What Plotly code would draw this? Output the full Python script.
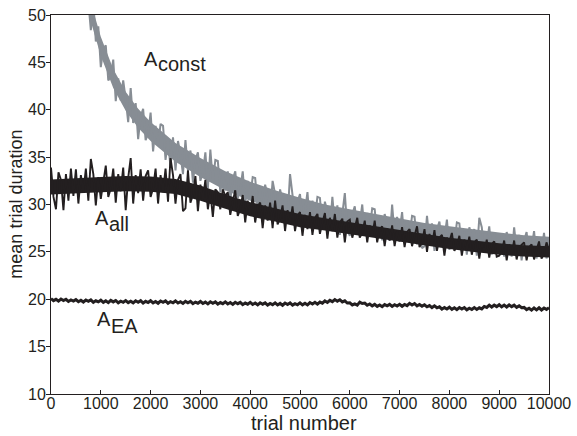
import plotly.graph_objects as go

# Trial grids for the three curves
trials_const = list(range(500, 10001, 50))
trials_all = list(range(0, 10001, 50))
trials_ea = list(range(0, 10001, 50))

# Mean trial duration, A_const (grey)
dur_const = [
    58.3, 53.9, 55.2, 51.4, 53.7, 51.4, 48.4, 51.4, 47.2, 48.8,
    44.5, 46.4, 46.8, 43.1, 43.5, 45.3, 40.9, 43.3, 41.0, 43.1,
    41.1, 38.7, 42.3, 38.6, 40.7, 36.9, 39.3, 40.1, 36.8, 37.5,
    39.7, 35.6, 38.3, 36.2, 38.5, 38.3, 34.7, 36.8, 33.9, 37.1,
    33.6, 36.7, 35.3, 33.2, 36.8, 33.6, 35.7, 32.3, 34.7, 35.5,
    32.5, 33.4, 35.5, 31.7, 35.8, 32.4, 34.7, 34.6, 31.3, 33.3,
    31.5, 33.5, 30.4, 32.7, 33.5, 30.7, 31.6, 33.5, 30.0, 32.5,
    30.8, 32.9, 32.8, 29.7, 31.6, 29.1, 32.1, 30.9, 29.0, 32.5,
    31.1, 28.6, 31.6, 30.4, 28.5, 28.6, 33.2, 31.0, 27.9, 30.3,
    31.1, 28.3, 29.3, 31.3, 27.8, 30.4, 28.7, 30.8, 30.7, 27.7,
    30.3, 29.2, 27.3, 30.8, 27.8, 29.9, 26.8, 29.2, 31.2, 27.3,
    26.7, 29.0, 29.8, 27.2, 28.0, 30.0, 26.7, 29.1, 27.5, 29.6,
    29.5, 26.6, 28.5, 26.2, 29.0, 28.0, 26.2, 30.0, 26.7, 28.7,
    27.2, 29.2, 25.9, 28.3, 26.7, 28.8, 28.7, 25.8, 27.7, 25.4,
    25.6, 28.8, 26.1, 28.0, 25.1, 27.4, 28.2, 25.6, 26.5, 28.4,
    25.2, 27.6, 26.0, 28.1, 28.0, 25.1, 27.1, 24.7, 27.6, 26.6,
    27.4, 24.6, 28.6, 27.6, 25.1, 25.9, 27.7, 24.7, 26.9, 25.5,
    24.8, 26.6, 24.5, 27.1, 26.0, 24.5, 27.6, 25.1, 26.8, 24.1,
    26.2, 27.1, 24.6, 25.4, 27.2, 24.3, 26.4, 25.0, 27.0, 24.3,
    25.8,
]

# Mean trial duration, A_all (black)
dur_all = [
    33.9, 30.8, 29.5, 33.4, 32.6, 29.4, 33.2, 30.4, 33.8, 30.9,
    33.7, 30.1, 33.1, 31.3, 33.8, 30.4, 34.8, 33.2, 29.9, 32.9,
    30.6, 32.4, 34.1, 30.8, 31.7, 33.8, 30.2, 33.2, 31.4, 33.9,
    29.4, 32.8, 34.9, 30.1, 33.1, 31.2, 33.7, 30.4, 33.0, 33.6,
    30.8, 31.7, 33.8, 30.1, 33.1, 31.3, 33.8, 30.3, 34.9, 33.1,
    30.1, 32.6, 33.2, 29.3, 29.6, 33.6, 30.2, 31.0, 33.0, 29.3,
    32.1, 30.5, 32.6, 29.5, 31.3, 28.7, 31.6, 31.3, 29.5, 31.6,
    30.9, 31.3, 28.9, 30.3, 31.5, 28.8, 29.5, 31.0, 28.1, 30.4,
    28.9, 30.9, 28.1, 29.8, 30.2, 27.5, 29.9, 28.3, 30.2, 27.5,
    30.4, 27.9, 28.5, 29.9, 27.2, 29.4, 28.0, 29.8, 27.2, 28.8,
    29.2, 26.7, 28.9, 27.4, 29.2, 26.8, 28.6, 29.0, 26.9, 28.1,
    29.1, 26.4, 28.6, 27.2, 29.0, 26.5, 28.1, 28.5, 26.0, 28.2,
    28.4, 26.5, 27.6, 28.6, 26.5, 27.0, 28.3, 26.0, 27.8, 26.6,
    28.3, 26.0, 27.4, 27.7, 25.6, 27.5, 26.2, 27.8, 25.6, 27.2,
    26.1, 27.6, 25.5, 27.1, 27.4, 25.6, 26.7, 27.7, 25.5, 26.0,
    27.4, 25.0, 26.9, 25.7, 27.3, 25.1, 26.5, 26.8, 24.6, 26.5,
    26.1, 27.0, 25.1, 25.6, 26.7, 24.6, 26.3, 25.2, 26.6, 24.7,
    26.0, 26.3, 24.3, 26.0, 24.9, 26.3, 24.4, 25.8, 26.1, 24.5,
    24.6, 25.0, 26.2, 24.1, 25.8, 24.7, 26.2, 24.2, 25.5, 25.8,
    26.0, 24.1, 25.5, 25.8, 24.2, 25.2, 26.1, 24.3, 24.8, 26.0,
    25.2,
]

# Mean trial duration, A_EA (black, narrow)
dur_ea = [
    20.07, 19.85, 19.99, 19.81, 20.02, 19.86, 20.00, 19.77, 19.92, 19.80,
    19.96, 19.74, 19.90, 19.71, 19.92, 19.78, 19.93, 19.68, 19.84, 19.72,
    19.90, 19.67, 19.83, 19.64, 19.88, 19.72, 19.87, 19.63, 19.80, 19.68,
    19.86, 19.65, 19.80, 19.62, 19.84, 19.69, 19.85, 19.60, 19.78, 19.65,
    19.84, 19.62, 19.77, 19.58, 19.81, 19.67, 19.82, 19.57, 19.75, 19.63,
    19.82, 19.60, 19.74, 19.56, 19.78, 19.63, 19.77, 19.53, 19.70, 19.58,
    19.77, 19.55, 19.70, 19.51, 19.73, 19.58, 19.72, 19.48, 19.65, 19.53,
    19.72, 19.50, 19.65, 19.46, 19.68, 19.53, 19.67, 19.43, 19.60, 19.48,
    19.67, 19.45, 19.60, 19.41, 19.63, 19.48, 19.62, 19.38, 19.55, 19.43,
    19.62, 19.40, 19.56, 19.37, 19.60, 19.45, 19.61, 19.38, 19.54, 19.42,
    19.62, 19.41, 19.57, 19.40, 19.65, 19.50, 19.68, 19.48, 19.70, 19.58,
    19.82, 19.66, 19.88, 19.75, 19.97, 19.80, 19.95, 19.72, 19.83, 19.60,
    19.62, 19.40, 19.52, 19.38, 19.70, 19.55, 19.60, 19.37, 19.50, 19.30,
    19.46, 19.25, 19.40, 19.22, 19.44, 19.30, 19.46, 19.24, 19.42, 19.28,
    19.47, 19.26, 19.45, 19.33, 19.57, 19.40, 19.55, 19.30, 19.45, 19.27,
    19.42, 19.20, 19.33, 19.12, 19.30, 19.10, 19.20, 18.95, 19.12, 18.97,
    19.16, 18.94, 19.10, 18.90, 19.12, 18.96, 19.12, 18.88, 19.05, 18.92,
    19.12, 18.92, 19.10, 18.98, 19.24, 19.14, 19.38, 19.18, 19.38, 19.22,
    19.42, 19.20, 19.38, 19.18, 19.40, 19.22, 19.38, 19.15, 19.30, 19.10,
    19.14, 18.90, 19.05, 18.85, 19.08, 18.88, 19.10, 18.87, 19.08, 18.93,
    19.10,
]

# Dense core of each noisy trace (where the trace fills solidly)
core_trials_const = [500, 750, 1000, 1250, 1500, 1750, 2000, 2500, 3000,
                     3500, 4000, 4500, 5000, 5500, 6000, 6500, 7000, 7500,
                     8000, 8500, 9000, 9500, 10000]
core_const_hi = [57.5, 52.2, 47.7, 44.3, 41.9, 40.1, 38.7, 36.5, 34.9,
                 33.5, 32.4, 31.5, 30.7, 30.0, 29.5, 29.0, 28.5, 28.05,
                 27.7, 27.35, 27.05, 26.75, 26.6]
core_const_lo = [55.5, 50.2, 45.7, 42.3, 39.9, 38.1, 36.7, 34.5, 32.9,
                 31.5, 30.4, 29.5, 28.7, 28.0, 27.5, 27.0, 26.5, 26.05,
                 25.7, 25.35, 25.05, 24.75, 24.6]

core_trials_all = list(range(0, 10001, 500))
core_all_hi = [32.65, 32.8, 32.9, 33.0, 32.95, 32.7, 32.0, 31.05, 30.25,
               29.6, 29.0, 28.55, 28.15, 27.75, 27.3, 26.9, 26.5, 26.2,
               25.9, 25.7, 25.6]
core_all_lo = [31.05, 31.2, 31.3, 31.4, 31.35, 31.1, 30.4, 29.55, 28.75,
               28.2, 27.6, 27.25, 26.85, 26.45, 26.1, 25.7, 25.3, 25.0,
               24.7, 24.5, 24.4]

x_ticks = list(range(0, 10001, 1000))
x_tick_text = [str(v) for v in x_ticks]
y_ticks = list(range(10, 51, 5))
y_tick_text = [str(v) for v in y_ticks]

INK = "#231f20"
GREY = "#878d94"
FONT = "Liberation Sans, Arial, sans-serif"

fig = go.Figure()


def add_core(xs, lo, hi, color):
    fig.add_trace(go.Scatter(x=xs, y=lo, mode="lines", line=dict(width=0),
                             hoverinfo="skip", showlegend=False))
    fig.add_trace(go.Scatter(x=xs, y=hi, mode="lines", line=dict(width=0),
                             fill="tonexty", fillcolor=color,
                             hoverinfo="skip", showlegend=False))


add_core(core_trials_const, core_const_lo, core_const_hi, GREY)
fig.add_trace(go.Scatter(x=trials_const, y=dur_const, mode="lines",
                         line=dict(color=GREY, width=2.0), showlegend=False))
add_core(core_trials_all, core_all_lo, core_all_hi, INK)
fig.add_trace(go.Scatter(x=trials_all, y=dur_all, mode="lines",
                         line=dict(color=INK, width=1.9), showlegend=False))
fig.add_trace(go.Scatter(x=trials_ea, y=dur_ea, mode="lines",
                         line=dict(color=INK, width=3.0), showlegend=False))

# Curve labels: capital A followed by a lowered subscript of the same size
labels = [
    ("A", "const", 2129, 45.4, 0.55),
    ("A", "all", 1145, 28.55, 0.65),
    ("A", "EA", 1185, 17.9, 0.75),
]
for main, sub, lx, ly, drop in labels:
    fig.add_annotation(x=lx, y=ly, xref="x", yref="y", text=main,
                       showarrow=False, xanchor="right", yanchor="middle",
                       xshift=3, font=dict(family=FONT, size=20, color=INK))
    fig.add_annotation(x=lx, y=ly - drop, xref="x", yref="y", text=sub,
                       showarrow=False, xanchor="left", yanchor="middle",
                       xshift=-1, font=dict(family=FONT, size=20, color=INK))

# Axis titles
fig.add_annotation(x=-0.072, y=0.5, xref="paper", yref="paper",
                   text="mean trial duration", textangle=-90, showarrow=False,
                   xanchor="center", yanchor="middle",
                   font=dict(family=FONT, size=18, color=INK))
fig.add_annotation(x=0.508, y=-0.077, xref="paper", yref="paper",
                   text="trial number", showarrow=False,
                   xanchor="center", yanchor="middle",
                   font=dict(family=FONT, size=20, color=INK))

fig.update_layout(
    width=577, height=436,
    margin=dict(l=51, r=28, t=15, b=42),
    paper_bgcolor="white", plot_bgcolor="white",
    font=dict(family=FONT, size=16, color=INK),
    xaxis=dict(range=[0, 10000], tickvals=x_ticks, ticktext=x_tick_text,
               ticks="inside", ticklen=4, tickcolor=INK, automargin=False,
               ticklabelstandoff=-5,
               showline=True, linecolor=INK, linewidth=1,
               mirror=True, showgrid=False, zeroline=False),
    yaxis=dict(range=[10, 50], tickvals=y_ticks, ticktext=y_tick_text,
               ticks="outside", ticklen=4, tickcolor=INK, automargin=False,
               ticklabelstandoff=-3,
               showline=True, linecolor=INK, linewidth=1,
               mirror=True, showgrid=False, zeroline=False),
)

fig.write_html("out.html")
